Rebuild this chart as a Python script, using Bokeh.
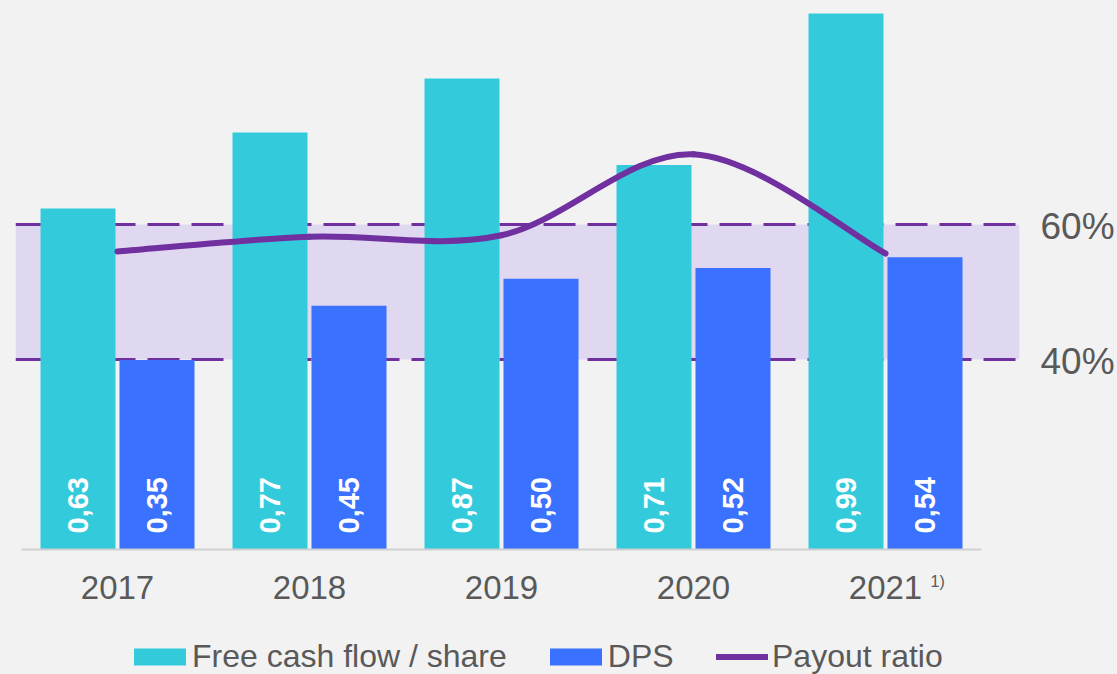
import math
from bokeh.plotting import figure
from bokeh.models import (Range1d, LinearAxis, FixedTicker, BoxAnnotation, Span, Legend,
                          LegendItem, Label, ColumnDataSource, GlobalInlineStyleSheet)
from bokeh.core.properties import value
from bokeh.embed import file_html
from bokeh.resources import INLINE

# ---------------- data ----------------
years = ["2017", "2018", "2019", "2020", "2021"]
fcf_per_share = [0.63, 0.77, 0.87, 0.71, 0.99]
dps = [0.35, 0.45, 0.50, 0.52, 0.54]
payout_ratio = [56.0, 58.2, 58.4, 70.4, 55.7]      # percent
target_band = [40, 60]                               # percent
pct_ticks = [40, 60]
footnote = "1)"
series_names = ["Free cash flow / share", "DPS", "Payout ratio"]

# ---------------- style ----------------
BG = "#F2F2F2"
CYAN = "#33CBDC"
BLUE = "#3A71FF"
PURPLE = "#7030A0"
BAND = "#E0D7F1"
GREY_TXT = "#595959"
AXIS_GREY = "#D0D0D0"
FONT = "Liberation Sans"

W, H = 1117, 674
BAR_W = 75 / 192
OFF = 39.5 / 192
PX_PER_UNIT = 541.4
X_START, X_END = -0.53125, 4.6979

n = len(years)
xs = list(range(n))

p = figure(width=W, height=H, output_backend="svg", toolbar_location=None,
           x_range=Range1d(X_START, X_END),
           y_range=Range1d(-125 / PX_PER_UNIT, 549 / PX_PER_UNIT),
           y_axis_location=None,
           min_border_left=15, min_border_right=98, min_border_top=0, min_border_bottom=0,
           background_fill_color=BG, border_fill_color=BG, outline_line_color=None)
p.stylesheets = [GlobalInlineStyleSheet(css="body{background:%s;}" % BG)]
p.grid.visible = False
PCT_TOP = 60 + 224 / 6.75
PCT_BOT = 40 - (674 - 359) / 6.75
p.extra_y_ranges = {"pct": Range1d(PCT_BOT, PCT_TOP),
                    # same scale, shifted a few pixels so the % labels sit like the original
                    "pct_lbl": Range1d(PCT_BOT + 0.35, PCT_TOP + 0.35)}

# target band and dashed limits
band = BoxAnnotation(bottom=target_band[0], top=target_band[1], y_range_name="pct",
                     fill_color=BAND, fill_alpha=1.0, line_alpha=0, level="underlay")
p.add_layout(band)
for v in target_band:
    p.add_layout(Span(location=v, dimension="width", y_range_name="pct",
                      line_color=PURPLE, line_width=3, line_dash="32 12", level="underlay"))

src = ColumnDataSource(dict(
    x_fcf=[x - OFF for x in xs], x_dps=[x + OFF for x in xs],
    fcf=fcf_per_share, dps=dps,
    fcf_lbl=[("%.2f" % v).replace(".", ",") for v in fcf_per_share],
    dps_lbl=[("%.2f" % v).replace(".", ",") for v in dps],
))

r_fcf = p.vbar(x="x_fcf", top="fcf", bottom=0, width=BAR_W, source=src,
               fill_color=CYAN, line_color=None)
r_dps = p.vbar(x="x_dps", top="dps", bottom=0, width=BAR_W, source=src,
               fill_color=BLUE, line_color=None)

# baseline
p.segment(x0=[-0.5], y0=[0], x1=[n - 0.5], y1=[0], line_color=AXIS_GREY, line_width=2)

# value labels inside bars
for xcol, lcol in (("x_fcf", "fcf_lbl"), ("x_dps", "dps_lbl")):
    p.text(x=xcol, y=16 / PX_PER_UNIT, text=lcol, source=src, angle=math.pi / 2,
           text_align="left", text_baseline="middle", text_color="white",
           text_font=value(FONT), text_font_style="bold", text_font_size="29px")

# smoothed payout line (Bezier segments through the data points)
bx0, by0, bx1, by1, cx0, cy0, cx1, cy1 = [], [], [], [], [], [], [], []
for i in range(n - 1):
    im, ip2 = max(i - 1, 0), min(i + 2, n - 1)
    bx0.append(xs[i]); by0.append(payout_ratio[i])
    bx1.append(xs[i + 1]); by1.append(payout_ratio[i + 1])
    cx0.append(xs[i] + (xs[i + 1] - xs[im]) / 6)
    cy0.append(payout_ratio[i] + (payout_ratio[i + 1] - payout_ratio[im]) / 6)
    cx1.append(xs[i + 1] - (xs[ip2] - xs[i]) / 6)
    cy1.append(payout_ratio[i + 1] - (payout_ratio[ip2] - payout_ratio[i]) / 6)
r_line = p.bezier(x0=bx0, y0=by0, x1=bx1, y1=by1, cx0=cx0, cy0=cy0, cx1=cx1, cy1=cy1,
                  y_range_name="pct", line_color=PURPLE, line_width=6, line_cap="round")

# x axis (categories) at y = 0
xa = p.xaxis[0]
xa.fixed_location = 0
xa.ticker = FixedTicker(ticks=xs)
xa.major_label_overrides = {i: y for i, y in enumerate(years)}
xa.axis_line_color = None
xa.major_tick_line_color = None
xa.minor_tick_line_color = None
xa.major_label_standoff = 20
xa.major_label_text_font = FONT
xa.major_label_text_font_size = "33px"
xa.major_label_text_color = GREY_TXT

p.add_layout(Label(x=xs[-1], y=0, x_offset=45, y_offset=-23, text=footnote,
                   text_font=FONT, text_font_size="16px", text_color=GREY_TXT,
                   text_baseline="top", text_align="left"))

# right percent axis
ra = LinearAxis(y_range_name="pct_lbl", ticker=FixedTicker(ticks=pct_ticks),
                major_label_overrides={t: "%d%%" % t for t in pct_ticks},
                axis_line_color=None, major_tick_line_color=None, minor_tick_line_color=None,
                major_tick_out=0, major_tick_in=0, minor_tick_out=0, minor_tick_in=0,
                major_label_standoff=21, major_label_text_font=FONT,
                major_label_text_font_size="37px", major_label_text_color=GREY_TXT)
p.add_layout(ra, "right")

common = dict(orientation="horizontal", padding=0, margin=0,
              background_fill_alpha=0, border_line_alpha=0,
              label_text_font=FONT, label_text_font_size="32px",
              label_text_color=GREY_TXT)
legend_bars = Legend(items=[LegendItem(label=series_names[0], renderers=[r_fcf]),
                            LegendItem(label=series_names[1], renderers=[r_dps])],
                     location=(112, -1), glyph_width=65, glyph_height=21,
                     label_standoff=0, spacing=36, **common)
legend_line = Legend(items=[LegendItem(label=series_names[2], renderers=[r_line])],
                     location=(701, -1), glyph_width=52, glyph_height=17,
                     label_standoff=4, **common)
p.add_layout(legend_bars)
p.add_layout(legend_line)

open("out.html", "w").write(file_html(p, INLINE))
